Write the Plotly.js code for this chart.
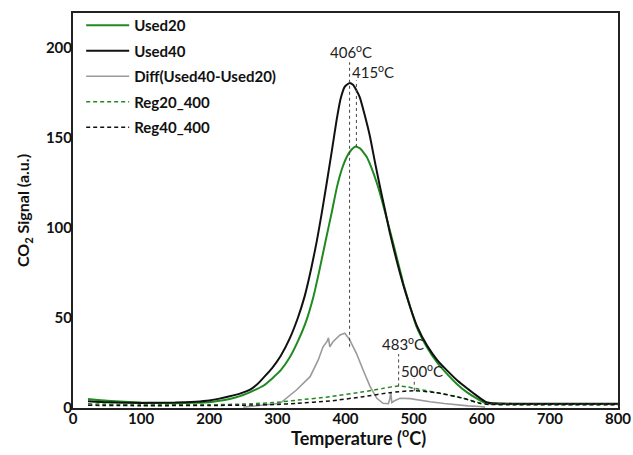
<!DOCTYPE html>
<html>
<head>
<meta charset="utf-8">
<script src="https://cdn.plot.ly/plotly-3.0.1.min.js"></script>
<style>html,body{margin:0;padding:0;background:#fff;}#chart{width:633px;height:455px;}</style>
</head>
<body>
<div id="chart"></div>
<script>
// ---- data ----
const used40X = [22, 50, 100, 150, 180, 200, 215, 230, 245, 260, 270, 280, 292, 305, 318, 330, 340, 350, 358, 365, 372, 380, 387, 393, 399, 406, 411, 416, 421, 428, 436, 443, 450, 458, 465, 475, 485, 495, 505, 520, 535, 550, 565, 580, 592, 600, 607, 615, 650, 700, 750, 800];
const used40Y = [3.8, 3.2, 2.8, 3.0, 3.5, 4.2, 5.2, 6.5, 8.0, 10.2, 13, 17, 22, 29, 38.5, 50, 62, 78, 93, 108, 124, 143, 160, 172, 178.5, 180.5, 179.5, 176.5, 172.5, 163, 150.7, 137, 124, 110, 97.5, 82, 68, 56, 45.5, 34.5, 26.5, 20.5, 15, 10.5, 7, 4.8, 3.2, 2.6, 2.4, 2.3, 2.3, 2.3];

const used20X = [22, 50, 100, 150, 180, 200, 215, 230, 245, 255, 268, 280, 292, 305, 318, 330, 342, 353, 362, 372, 380, 387, 395, 402, 409, 415, 422, 431, 438, 446, 453, 460, 470, 478, 485, 495, 505, 520, 535, 550, 563, 578, 593, 603, 612, 650, 700, 750, 800];
const used20Y = [5, 4, 3, 2.7, 2.9, 3.2, 4.0, 5, 6.6, 8, 10.2, 12.5, 16.3, 21, 28, 37, 48, 62, 77, 95, 109, 122, 133, 139.6, 143.6, 145.3, 144, 139.5, 133.5, 125, 116, 106, 91.5, 79.5, 69, 56, 44.5, 33.5, 25, 18.5, 13.5, 8.8, 5.2, 3.2, 2.5, 2.2, 2.2, 2.2, 2.2];

const diffX = [250, 280, 304, 328, 348, 360, 367, 373, 375, 377, 382, 392, 399, 406, 416, 426, 436, 446, 455, 463, 465, 466.5, 468, 472, 480, 495, 510, 524, 545, 563, 580, 597, 605];
const diffY = [0.5, 1.5, 2.6, 10, 17.4, 26.7, 34, 37, 39, 34, 37, 40.6, 41.5, 38, 30.4, 21, 12, 5.4, 2.6, 2.4, 5, 8.5, 3, 4, 5.4, 5.2, 4.2, 3.5, 2.5, 1.7, 1.2, 0.8, 0.5];

const reg20X = [22, 100, 200, 260, 300, 330, 377, 426, 455, 477, 490, 500, 534, 573, 597, 610, 650, 700, 800];
const reg20Y = [2.3, 1.8, 1.8, 2.3, 3.2, 4.4, 6.3, 9, 10.9, 12.2, 11.8, 11, 8.5, 5.4, 2.8, 2.2, 2, 2, 2];

const reg40X = [22, 100, 200, 260, 300, 328, 377, 426, 465, 500, 534, 573, 597, 610, 650, 700, 800];
const reg40Y = [1.5, 1.3, 1.4, 1.6, 2.0, 2.6, 3.9, 6.3, 8.5, 9.6, 8.5, 5.4, 2.6, 2.0, 1.8, 1.8, 1.8];

const seriesNames = ["Used20", "Used40", "Diff(Used40-Used20)", "Reg20_400", "Reg40_400"];

// peak markers: label, marker x, marker y-range, label position
const peakLabels = ["406", "415", "483", "500"];
const peakLineX = [406, 416, 478, 501];
const peakLineY0 = [34, 145, 12, 9.6];
const peakLineY1 = [192, 182, 30, 16.5];
const peakLabelX = [408, 441, 484, 513];
const peakLabelY = [198, 187, 35.8, 21];

const xTicks = [0, 100, 200, 300, 400, 500, 600, 700, 800];
const yTicks = [0, 50, 100, 150, 200];
const xTitle = 'Temperature (<sup>o</sup>C)';
const yTitle = 'CO<sub>2</sub> Signal (a.u.)';

// ---- chart ----
const GREEN = '#1f8a1f';
const FONT = 'Lato, "Open Sans", sans-serif';

const traces = [
  {x: used20X, y: used20Y, name: seriesNames[0], mode: 'lines', line: {color: GREEN, width: 2, shape: 'spline', smoothing: 0.4}},
  {x: used40X, y: used40Y, name: seriesNames[1], mode: 'lines', line: {color: '#111', width: 2, shape: 'spline', smoothing: 0.4}},
  {x: diffX, y: diffY, name: seriesNames[2], mode: 'lines', line: {color: '#9a9a9a', width: 1.6}},
  {x: reg20X, y: reg20Y, name: seriesNames[3], mode: 'lines', line: {color: GREEN, width: 1.5, dash: '4px,3px', shape: 'spline', smoothing: 0.6}},
  {x: reg40X, y: reg40Y, name: seriesNames[4], mode: 'lines', line: {color: '#111', width: 1.5, dash: '4px,3px', shape: 'spline', smoothing: 0.6}}
];
traces.forEach((t, i) => { t.legendgroup = 'g' + i; });

const shapes = peakLineX.map((xv, i) => ({
  type: 'line', xref: 'x', yref: 'y',
  x0: xv, x1: xv, y0: peakLineY0[i], y1: peakLineY1[i],
  line: {color: '#444', width: 1, dash: 'dot'}
}));

const annotations = peakLabels.map((lab, i) => ({
  x: peakLabelX[i], y: peakLabelY[i], xref: 'x', yref: 'y',
  text: lab + '<sup>o</sup>C', showarrow: false,
  font: {family: FONT, size: 15, color: '#222'}
}));
annotations.push({
  x: 0.523, y: -0.073, xref: 'paper', yref: 'paper', xanchor: 'center', yanchor: 'middle',
  text: xTitle, showarrow: false,
  font: {family: FONT, size: 18, color: '#111', weight: 'bold'}
});

const layout = {
  width: 633, height: 455,
  margin: {l: 73, r: 15, t: 13, b: 47, autoexpand: false},
  paper_bgcolor: '#fff', plot_bgcolor: '#fff',
  showlegend: true,
  legend: {
    x: 0.015, y: 1.010, xanchor: 'left', yanchor: 'top',
    bgcolor: 'rgba(0,0,0,0)', borderwidth: 0,
    font: {family: FONT, size: 15, color: '#111', weight: 'bold'},
    tracegroupgap: 3, itemwidth: 43
  },
  xaxis: {
    range: [0, 800], tickvals: xTicks, ticks: '', showgrid: false, zeroline: false,
    showline: true, mirror: true, linecolor: '#222', linewidth: 2,
    ticklabelstandoff: -4, automargin: false,
    tickfont: {family: FONT, size: 15, color: '#111', weight: 'bold'}
  },
  yaxis: {
    range: [0, 219.4], tickvals: yTicks, ticks: '', showgrid: false, zeroline: false,
    showline: true, mirror: true, linecolor: '#222', linewidth: 2,
    ticklabelstandoff: -4, automargin: false,
    tickfont: {family: FONT, size: 15, color: '#111', weight: 'bold'},
    title: {text: yTitle, font: {family: FONT, size: 16, color: '#111', weight: 'bold'}, standoff: 12}
  },
  shapes: shapes,
  annotations: annotations
};

Plotly.newPlot('chart', traces, layout, {displayModeBar: false, staticPlot: true});
</script>
</body>
</html>
